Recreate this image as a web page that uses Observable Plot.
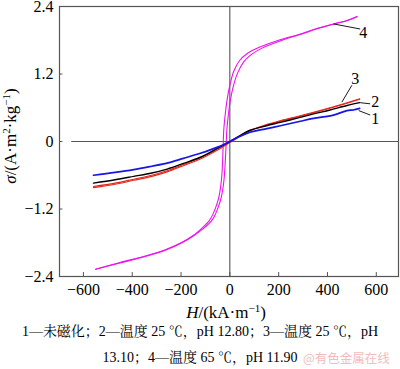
<!DOCTYPE html>
<html><head><meta charset="utf-8">
<script src="https://cdn.jsdelivr.net/npm/d3@7"></script>
<script src="https://cdn.jsdelivr.net/npm/@observablehq/plot@0.6"></script>
<style>
body{margin:0;background:#fff;}
#wrap{position:relative;width:400px;height:369px;overflow:hidden;font-family:"Liberation Serif","Times New Roman",serif;}
#wrap svg{position:absolute;left:0;top:0;}
.cap{position:absolute;left:0;width:400px;text-align:center;font-size:14px;line-height:18px;font-family:"Liberation Serif","Noto Serif CJK SC","Noto Sans CJK SC",serif;white-space:nowrap;color:#000;}
.wm{position:absolute;left:303px;top:349px;font-size:12.5px;line-height:18px;font-family:"Noto Sans CJK SC",sans-serif;color:#f2bcbc;white-space:nowrap;}
</style></head><body><div id="wrap"></div>
<script>
// H (kA/m), sigma (A·m²/kg)
const curve1 = [[-559,-0.60],[-470,-0.55],[-394,-0.50],[-320,-0.44],[-257,-0.385],[-190,-0.30],[-121,-0.21],[-50,-0.10],[0,0.0],[40,0.09],[83,0.165],[152,0.23],[207,0.28],[289,0.36],[343,0.41],[425,0.47],[480,0.55],[505,0.56],[532,0.59]];
const curve2 = [[-559,-0.74],[-470,-0.68],[-394,-0.62],[-320,-0.56],[-257,-0.49],[-190,-0.39],[-121,-0.28],[-50,-0.12],[0,0.0],[40,0.10],[83,0.20],[150,0.28],[207,0.34],[280,0.42],[343,0.49],[410,0.56],[480,0.64],[532,0.69]];
const curve3a = [[-559,-0.80],[-470,-0.74],[-394,-0.67],[-320,-0.60],[-257,-0.52],[-190,-0.41],[-121,-0.29],[-50,-0.13],[0,0.0],[40,0.10],[83,0.20],[150,0.30],[207,0.37],[280,0.45],[343,0.52],[410,0.60],[480,0.69],[532,0.76]];
const curve3b = [[-559,-0.82],[-470,-0.76],[-394,-0.69],[-320,-0.62],[-257,-0.54],[-190,-0.43],[-121,-0.31],[-50,-0.15],[0,-0.02],[40,0.09],[83,0.19],[150,0.29],[207,0.36],[280,0.44],[343,0.51],[410,0.59],[480,0.68],[532,0.75]];
const curve4up = [[-550,-2.27],[-450,-2.15],[-350,-2.04],[-257,-1.91],[-200,-1.80],[-150,-1.67],[-112,-1.53],[-85,-1.41],[-70,-1.30],[-56,-1.15],[-45,-0.99],[-37,-0.78],[-32,-0.55],[-28,-0.15],[-25,0.20],[-19,0.48],[-11,0.75],[0,1.00],[16,1.25],[40,1.44],[70,1.56],[118,1.67],[200,1.80],[289,1.91],[350,2.00],[425,2.09],[480,2.15],[521,2.22]];
const curve4down = [[-550,-2.27],[-450,-2.16],[-350,-2.05],[-257,-1.92],[-200,-1.81],[-150,-1.68],[-104,-1.53],[-75,-1.41],[-60,-1.30],[-46,-1.15],[-35,-0.99],[-26,-0.76],[-21,-0.52],[-16,-0.12],[-12,0.22],[-6,0.48],[2,0.73],[14,0.98],[32,1.22],[56,1.41],[86,1.54],[132,1.66],[214,1.80],[295,1.91],[355,2.00],[428,2.09],[482,2.15],[521,2.22]];

const labelText = ["1","2","3","4"];
const labelH = [596,596,514,547];
const labelS = [0.40,0.70,1.11,1.94];
const leaderFrom = [[528,0.55],[534,0.69],[459,0.70],[425,2.09]];
const leaderTo = [[575,0.47],[575,0.67],[500,1.00],[534,2.00]];

const xTicks = [-600,-400,-200,0,200,400,600];
const yTicks = [-2.4,-1.2,0,1.2,2.4];
const xDomain = [-698,691];
const yDomain = [-2.4,2.4];

const fmt = d => (d < 0 ? "\u2212" : "") + String(Math.abs(d));
const fmtY = d => d === 0 ? "0" : (d < 0 ? "\u2212" : "") + Math.abs(d).toFixed(1);

const labels = labelText.map((t,i)=>({t, H:labelH[i], s:labelS[i]}));
const leaders = leaderFrom.map((f,i)=>({x1:f[0],y1:f[1],x2:leaderTo[i][0],y2:leaderTo[i][1]}));
const toRows = arr => arr.map(([H,s])=>({H,s}));
const lineOpts = (stroke, w) => ({x: "H", y: "s", stroke, strokeWidth: w, curve: "catmull-rom"});

const chart = Plot.plot({
  width: 400, height: 322,
  marginLeft: 59, marginRight: 2, marginTop: 6, marginBottom: 46,
  style: {fontFamily: '"Liberation Serif","Times New Roman",serif', fontSize: "16px", background: "white", color: "#000", overflow: "visible"},
  x: {domain: xDomain},
  y: {domain: yDomain},
  marks: [
    Plot.ruleX([0], {stroke: "#444", strokeWidth: 1}),
    Plot.ruleY([0], {x1: -648, x2: xDomain[1], stroke: "#555", strokeWidth: 1.2}),
    Plot.line(toRows(curve4up), lineOpts("#ee11ee", 1.1)),
    Plot.line(toRows(curve4down), lineOpts("#ee11ee", 1.1)),
    Plot.line(toRows(curve3a), lineOpts("#e8241c", 1.1)),
    Plot.line(toRows(curve3b), lineOpts("#e8241c", 1.1)),
    Plot.line(toRows(curve2), lineOpts("#000", 1.4)),
    Plot.line(toRows(curve1), lineOpts("#1616e8", 1.7)),
    Plot.link(leaders, {x1: "x1", y1: "y1", x2: "x2", y2: "y2", stroke: "#000", strokeWidth: 0.9}),
    Plot.text(labels, {x: "H", y: "s", text: "t", fontSize: 16, fill: "#000"}),
    Plot.frame({stroke: "#555", strokeWidth: 1.2}),
    Plot.ruleY(yTicks, {x1: xDomain[0], x2: xDomain[0] + 14, stroke: "#555"}),
    Plot.ruleX(xTicks, {y1: yDomain[0], y2: yDomain[0] + 0.07, stroke: "#555"}),
    Plot.axisX(xTicks, {tickSize: 0, tickPadding: 7, label: null, tickFormat: fmt, fontSize: 16}),
    Plot.axisY(yTicks, {tickSize: 0, tickPadding: 6, label: null, tickFormat: fmtY, fontSize: 16})
  ]
});
document.getElementById("wrap").appendChild(chart);

const svg = d3.select(chart);
// x label
const xl = svg.append("text").attr("x", 226).attr("y", 318).attr("text-anchor", "middle")
  .attr("font-size", 17).attr("fill", "#000").attr("font-family", '"Liberation Serif",serif');
xl.append("tspan").attr("font-style", "italic").text("H");
xl.append("tspan").text("/(kA\u00b7m");
xl.append("tspan").attr("font-size", 11).attr("dy", -6).text("\u22121");
xl.append("tspan").attr("dy", 6).text(")");
// y label
const yl = svg.append("text").attr("transform", "translate(16,136) rotate(-90)").attr("text-anchor", "middle")
  .attr("font-size", 17).attr("fill", "#000").attr("font-family", '"Liberation Serif",serif');
yl.append("tspan").attr("font-style", "italic").text("\u03c3");
yl.append("tspan").text("/(A\u00b7m");
yl.append("tspan").attr("font-size", 11).attr("dy", -6).text("2");
yl.append("tspan").attr("dy", 6).text("\u00b7kg");
yl.append("tspan").attr("font-size", 11).attr("dy", -6).text("\u22121");
yl.append("tspan").attr("dy", 6).text(")");

const wrap = document.getElementById("wrap");
const c1 = document.createElement("div"); c1.className = "cap"; c1.style.top = "323px";
c1.textContent = "1—未磁化；2—温度 25 ℃，pH 12.80；3—温度 25 ℃，pH";
const c2 = document.createElement("div"); c2.className = "cap"; c2.style.top = "349px";
c2.textContent = "13.10；4—温度 65 ℃，pH 11.90";
const wm = document.createElement("div"); wm.className = "wm"; wm.textContent = "@有色金属在线";
wrap.appendChild(c1); wrap.appendChild(c2); wrap.appendChild(wm);
</script></body></html>
